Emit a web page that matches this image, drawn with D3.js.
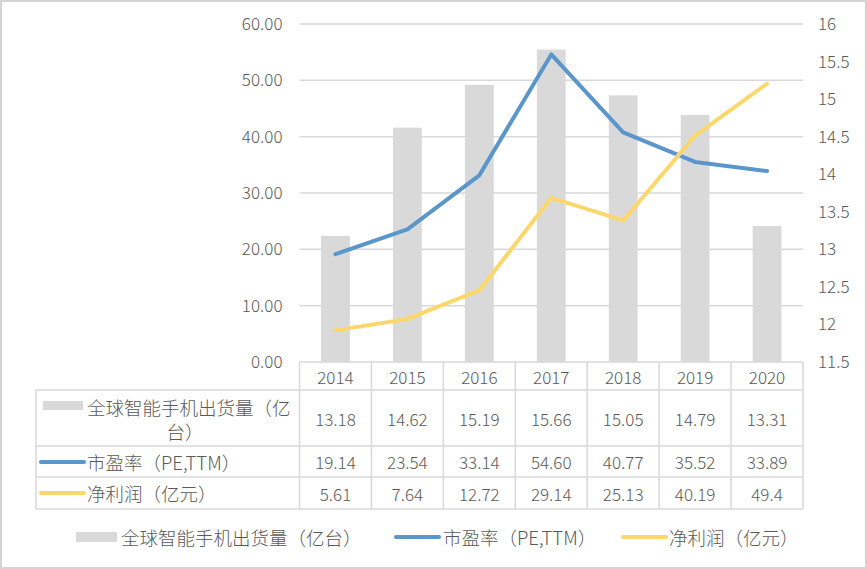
<!DOCTYPE html>
<html>
<head>
<meta charset="utf-8">
<script src="https://cdn.jsdelivr.net/npm/d3@7"></script>
<style>
  html, body { margin: 0; padding: 0; background: #fff; }
  svg { display: block; }
  text { font-family: "Noto Sans CJK SC", "Noto Sans", sans-serif; fill: #595959; font-weight: 300; }
</style>
</head>
<body>
<svg id="chart" width="867" height="569"></svg>
<script>
// ---- data ----
const years = ["2014", "2015", "2016", "2017", "2018", "2019", "2020"];
const shipments = [13.18, 14.62, 15.19, 15.66, 15.05, 14.79, 13.31]; // 全球智能手机出货量（亿台）, right axis
const pe = [19.14, 23.54, 33.14, 54.60, 40.77, 35.52, 33.89];        // 市盈率（PE,TTM）, left axis
const profit = [5.61, 7.64, 12.72, 29.14, 25.13, 40.19, 49.4];        // 净利润（亿元）, left axis
const leftTicks = [0, 10, 20, 30, 40, 50, 60];
const rightTicks = [11.5, 12, 12.5, 13, 13.5, 14, 14.5, 15, 15.5, 16];
const seriesNames = ["全球智能手机出货量（亿台）", "市盈率（PE,TTM）", "净利润（亿元）"];

// ---- styles ----
const GRID = "#d9d9d9", BAR = "#d9d9d9", BLUE = "#5b96cb", GOLD = "#fcd86c";

const svg = d3.select("#chart");

// outer frame
svg.append("rect").attr("x", 1).attr("y", 1).attr("width", 865).attr("height", 567)
  .attr("fill", "#fff").attr("stroke", "#d4d4d4").attr("stroke-width", 2);

const plotL = 299.5, plotR = 803, plotT = 24, plotB = 362;

const x = d3.scaleBand().domain(years).range([plotL, plotR]).paddingInner(0).paddingOuter(0);
const yL = d3.scaleLinear().domain([0, 60]).range([plotB, plotT]);
const yR = d3.scaleLinear().domain([11.5, 16]).range([plotB, plotT]);

// gridlines
svg.append("g").selectAll("line").data(leftTicks.filter(d => d > 0)).join("line")
  .attr("x1", plotL).attr("x2", plotR)
  .attr("y1", d => yL(d)).attr("y2", d => yL(d))
  .attr("stroke", GRID).attr("stroke-width", 1.5);

// bars
const barW = x.bandwidth() * 0.4;
svg.append("g").selectAll("rect").data(shipments).join("rect")
  .attr("x", (d, i) => x(years[i]) + x.bandwidth() / 2 - barW / 2)
  .attr("width", barW)
  .attr("y", d => yR(d))
  .attr("height", d => plotB - yR(d))
  .attr("fill", BAR);

// lines
const lineGen = arr => d3.line()
  .x((d, i) => x(years[i]) + x.bandwidth() / 2)
  .y(d => yL(d))(arr);

svg.append("path").attr("d", lineGen(pe)).attr("fill", "none")
  .attr("stroke", BLUE).attr("stroke-width", 4).attr("stroke-linejoin", "round").attr("stroke-linecap", "round");
svg.append("path").attr("d", lineGen(profit)).attr("fill", "none")
  .attr("stroke", GOLD).attr("stroke-width", 4).attr("stroke-linejoin", "round").attr("stroke-linecap", "round");

// left axis
const axL = svg.append("g").attr("transform", `translate(${plotL},0)`)
  .call(d3.axisLeft(yL).tickValues(leftTicks).tickFormat(d3.format(".2f")).tickSize(0).tickPadding(17));
axL.select(".domain").remove();
axL.selectAll("text").attr("font-size", 17).attr("fill", "#595959")
  .style("font-family", '"Noto Sans CJK SC", sans-serif').style("font-weight", 300);

// right axis
const axR = svg.append("g").attr("transform", `translate(${plotR},0)`)
  .call(d3.axisRight(yR).tickValues(rightTicks).tickFormat(d => String(d)).tickSize(0).tickPadding(15));
axR.select(".domain").remove();
axR.selectAll("text").attr("font-size", 17).attr("fill", "#595959")
  .style("font-family", '"Noto Sans CJK SC", sans-serif').style("font-weight", 300);

// ---- data table ----
const tL = 36, hTop = 362, r1Top = 390, r2Top = 446, r3Top = 477, tBot = 509;
const tg = svg.append("g");
const hline = (x1, x2, y) => tg.append("line").attr("x1", x1).attr("x2", x2).attr("y1", y).attr("y2", y)
  .attr("stroke", GRID).attr("stroke-width", 1.5);
const vline = (xx, y1, y2) => tg.append("line").attr("x1", xx).attr("x2", xx).attr("y1", y1).attr("y2", y2)
  .attr("stroke", GRID).attr("stroke-width", 1.5);

hline(plotL, plotR, hTop);
[r1Top, r2Top, r3Top, tBot].forEach(y => hline(tL, plotR, y));
vline(tL, r1Top, tBot);
years.forEach(yv => vline(x(yv), hTop, tBot));
vline(plotR, hTop, tBot);

// year headers
tg.selectAll("text.yr").data(years).join("text").attr("class", "yr")
  .attr("x", d => x(d) + x.bandwidth() / 2).attr("y", (hTop + r1Top) / 2)
  .attr("text-anchor", "middle").attr("dominant-baseline", "central")
  .attr("font-size", 17).text(d => d);

const rows = [
  { vals: shipments, fmt: d3.format(".2f"), y: (r1Top + r2Top) / 2 },
  { vals: pe, fmt: d3.format(".2f"), y: (r2Top + r3Top) / 2 },
  { vals: profit, fmt: d => String(d), y: (r3Top + tBot) / 2 }
];
rows.forEach(r => {
  tg.append("g").selectAll("text").data(r.vals).join("text")
    .attr("x", (d, i) => x(years[i]) + x.bandwidth() / 2).attr("y", r.y)
    .attr("text-anchor", "middle").attr("dominant-baseline", "central")
    .attr("font-size", 17).text(d => r.fmt(d));
});

// row labels with legend keys
tg.append("rect").attr("x", 43).attr("y", 401).attr("width", 40).attr("height", 9).attr("fill", BAR);
tg.append("text").attr("x", 87).attr("y", 407).attr("dominant-baseline", "central")
  .attr("font-size", 18.5).text(seriesNames[0].slice(0, 11));
tg.append("text").attr("x", 185).attr("y", 431).attr("text-anchor", "middle").attr("dominant-baseline", "central")
  .attr("font-size", 18.5).text(seriesNames[0].slice(11));

tg.append("line").attr("x1", 41).attr("x2", 84).attr("y1", 462).attr("y2", 462)
  .attr("stroke", BLUE).attr("stroke-width", 4).attr("stroke-linecap", "round");
tg.append("text").attr("x", 87).attr("y", 462).attr("dominant-baseline", "central")
  .attr("font-size", 18.5).text(seriesNames[1]);

tg.append("line").attr("x1", 41).attr("x2", 84).attr("y1", 493).attr("y2", 493)
  .attr("stroke", GOLD).attr("stroke-width", 4).attr("stroke-linecap", "round");
tg.append("text").attr("x", 87).attr("y", 493).attr("dominant-baseline", "central")
  .attr("font-size", 18.5).text(seriesNames[2]);

// ---- legend ----
const lg = svg.append("g");
const ly = 537;
lg.append("rect").attr("x", 76).attr("y", ly - 5).attr("width", 41).attr("height", 10).attr("fill", BAR);
lg.append("text").attr("x", 121).attr("y", ly).attr("dominant-baseline", "central")
  .attr("font-size", 18.5).text(seriesNames[0]);
lg.append("line").attr("x1", 396).attr("x2", 439).attr("y1", ly).attr("y2", ly)
  .attr("stroke", BLUE).attr("stroke-width", 4).attr("stroke-linecap", "round");
lg.append("text").attr("x", 443).attr("y", ly).attr("dominant-baseline", "central")
  .attr("font-size", 18.5).text(seriesNames[1]);
lg.append("line").attr("x1", 623).attr("x2", 666).attr("y1", ly).attr("y2", ly)
  .attr("stroke", GOLD).attr("stroke-width", 4).attr("stroke-linecap", "round");
lg.append("text").attr("x", 669).attr("y", ly).attr("dominant-baseline", "central")
  .attr("font-size", 18.5).text(seriesNames[2]);
</script>
</body>
</html>
